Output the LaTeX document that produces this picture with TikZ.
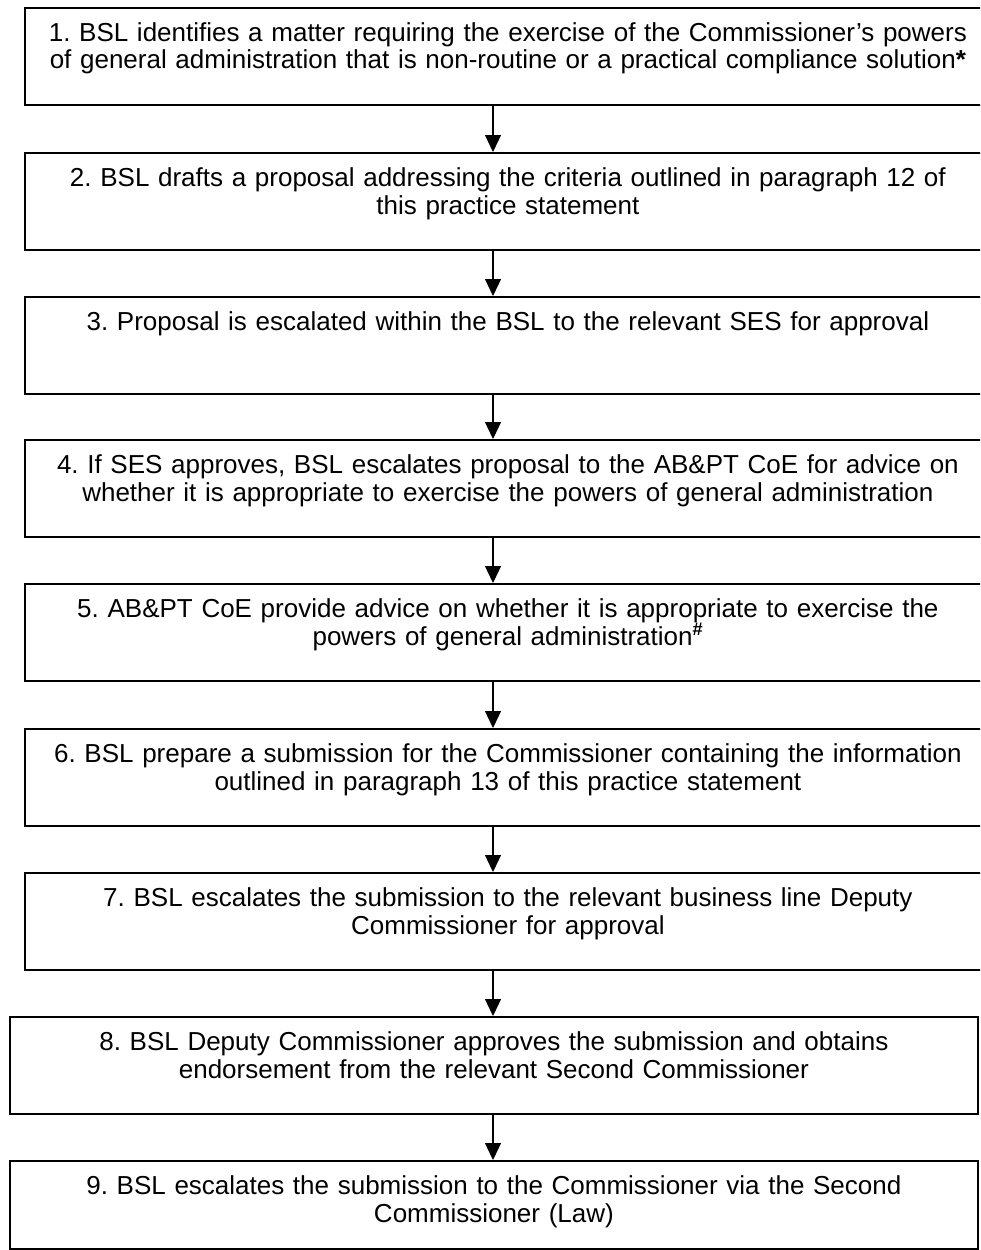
\documentclass[tikz,border=0pt]{standalone}
\usepackage{fontspec}
\setmainfont{Liberation Sans}
\usetikzlibrary{arrows.meta}
\begin{document}
\frenchspacing
\begin{tikzpicture}[x=1pt,y=-1pt,
  box/.style={draw, line width=1.8pt, minimum height=97pt, inner sep=0pt, anchor=north west},
  txt/.style={font=\fontsize{26}{28}\selectfont, align=center, text width=960pt, anchor=base, inner sep=0pt, yshift=-34pt},
  flow/.style={line width=1.2pt, -{Triangle[length=17pt,width=16pt]}}]
\useasboundingbox (0,0) rectangle (980,1250);
\clip (0,0) rectangle (980,1250);
\coordinate (ax) at (493,0);
% boxes
\node[box, minimum width=966pt] (b1) at (24,7) {};
\node[box, minimum width=966pt] (b2) at (24,152) {};
\node[box, minimum width=966pt] (b3) at (24,296) {};
\node[box, minimum width=966pt] (b4) at (24,439) {};
\node[box, minimum width=966pt] (b5) at (24,583) {};
\node[box, minimum width=966pt] (b6) at (24,728) {};
\node[box, minimum width=966pt] (b7) at (24,872) {};
\node[box, minimum width=968pt] (b8) at (9,1016) {};
\node[box, minimum width=968pt, minimum height=88pt] (b9) at (9,1160) {};
% texts
\node[txt] (t1) at (b1.north) {1. BSL identifies a matter requiring the exercise of the Commissioner’s powers\\ of general administration that is non-routine or a practical compliance solution\textbf{*}};
\node[txt] (t2) at (b2.north) {2. BSL drafts a proposal addressing the criteria outlined in paragraph 12 of\\ this practice statement};
\node[txt] (t3) at (b3.north) {3. Proposal is escalated within the BSL to the relevant SES for approval};
\node[txt] (t4) at (b4.north) {4. If SES approves, BSL escalates proposal to the AB\&PT CoE for advice on\\ whether it is appropriate to exercise the powers of general administration};
\node[txt] (t5) at (b5.north) {5. AB\&PT CoE provide advice on whether it is appropriate to exercise the\\ powers of general administration\textsuperscript{\textbf{\#}}};
\node[txt] (t6) at (b6.north) {6. BSL prepare a submission for the Commissioner containing the information\\ outlined in paragraph 13 of this practice statement};
\node[txt] (t7) at (b7.north) {7. BSL escalates the submission to the relevant business line Deputy\\ Commissioner for approval};
\node[txt] (t8) at (b8.north) {8. BSL Deputy Commissioner approves the submission and obtains\\ endorsement from the relevant Second Commissioner};
\node[txt] (t9) at (b9.north) {9. BSL escalates the submission to the Commissioner via the Second\\ Commissioner (Law)};
% arrows
\draw[flow] (b1.south -| ax) -- (b2.north -| ax);
\draw[flow] (b2.south -| ax) -- (b3.north -| ax);
\draw[flow] (b3.south -| ax) -- (b4.north -| ax);
\draw[flow] (b4.south -| ax) -- (b5.north -| ax);
\draw[flow] (b5.south -| ax) -- (b6.north -| ax);
\draw[flow] (b6.south -| ax) -- (b7.north -| ax);
\draw[flow] (b7.south -| ax) -- (b8.north -| ax);
\draw[flow] (b8.south -| ax) -- (b9.north -| ax);
\end{tikzpicture}
\end{document}
